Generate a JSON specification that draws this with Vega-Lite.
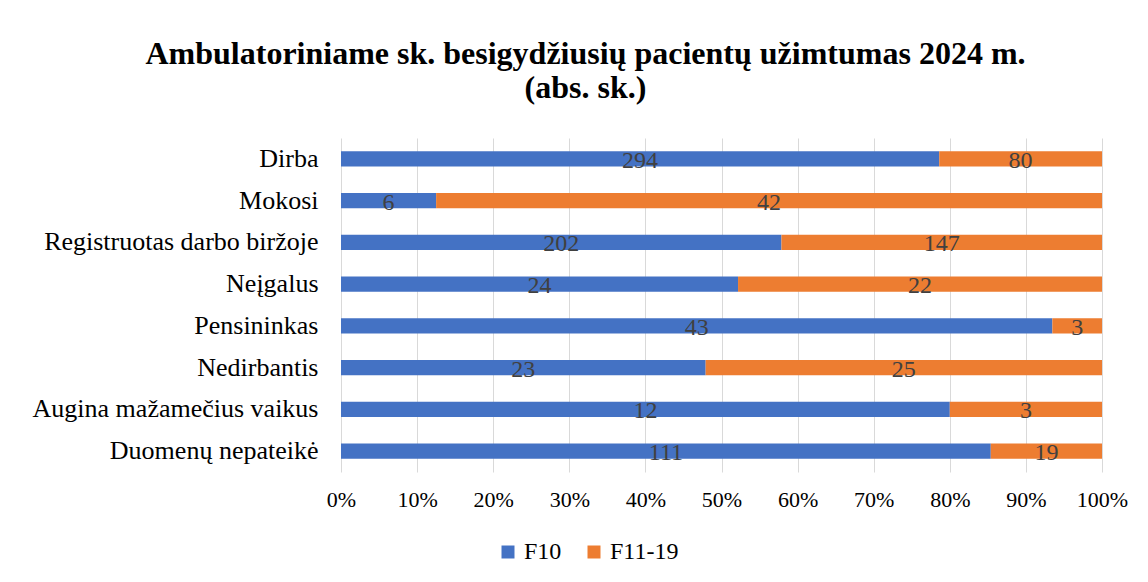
{
  "$schema": "https://vega.github.io/schema/vega-lite/v6.json",
  "width": 761,
  "height": 334,
  "autosize": "none",
  "padding": {"left": 341, "top": 138, "right": 46, "bottom": 110},
  "background": "white",
  "config": {
    "view": {"stroke": null},
    "font": "Liberation Serif",
    "axis": {"labelFont": "Liberation Serif"},
    "legend": {"labelFont": "Liberation Serif"}
  },
  "title": {
    "text": ["Ambulatoriniame sk. besigydžiusių pacientų užimtumas 2024 m.", "(abs. sk.)"],
    "font": "Liberation Serif",
    "fontSize": 32,
    "fontWeight": "bold",
    "color": "#000000",
    "anchor": "middle",
    "dx": -136,
    "offset": 33,
    "lineHeight": 34
  },
  "data": {
    "values": [
      {"cat": "Dirba", "series": "F10", "value": 294},
      {"cat": "Dirba", "series": "F11-19", "value": 80},
      {"cat": "Mokosi", "series": "F10", "value": 6},
      {"cat": "Mokosi", "series": "F11-19", "value": 42},
      {"cat": "Registruotas darbo biržoje", "series": "F10", "value": 202},
      {"cat": "Registruotas darbo biržoje", "series": "F11-19", "value": 147},
      {"cat": "Neįgalus", "series": "F10", "value": 24},
      {"cat": "Neįgalus", "series": "F11-19", "value": 22},
      {"cat": "Pensininkas", "series": "F10", "value": 43},
      {"cat": "Pensininkas", "series": "F11-19", "value": 3},
      {"cat": "Nedirbantis", "series": "F10", "value": 23},
      {"cat": "Nedirbantis", "series": "F11-19", "value": 25},
      {"cat": "Augina mažamečius vaikus", "series": "F10", "value": 12},
      {"cat": "Augina mažamečius vaikus", "series": "F11-19", "value": 3},
      {"cat": "Duomenų nepateikė", "series": "F10", "value": 111},
      {"cat": "Duomenų nepateikė", "series": "F11-19", "value": 19}
    ]
  },
  "transform": [
    {"stack": "value", "groupby": ["cat"], "offset": "normalize", "sort": [{"field": "series", "order": "ascending"}], "as": ["x0", "x1"]}
  ],
  "encoding": {
    "y": {
      "field": "cat",
      "type": "nominal",
      "sort": ["Dirba", "Mokosi", "Registruotas darbo biržoje", "Neįgalus", "Pensininkas", "Nedirbantis", "Augina mažamečius vaikus", "Duomenų nepateikė"],
      "scale": {"paddingInner": 0.64, "paddingOuter": 0.32},
      "axis": {
        "title": null,
        "domain": false,
        "ticks": false,
        "labelFont": "Liberation Serif",
        "labelFontSize": 26,
        "labelColor": "#000000",
        "labelPadding": 23,
        "labelLimit": 0
      }
    }
  },
  "layer": [
    {
      "mark": {"type": "bar"},
      "encoding": {
        "x": {
          "field": "x0",
          "type": "quantitative",
          "scale": {"domain": [0, 1], "nice": false},
          "axis": {
            "title": null,
            "format": "%",
            "values": [0, 0.1, 0.2, 0.3, 0.4, 0.5, 0.6, 0.7, 0.8, 0.9, 1],
            "grid": true,
            "gridColor": "#d9d9d9",
            "domain": false,
            "ticks": false,
            "labelFont": "Liberation Serif",
            "labelFontSize": 22,
            "labelColor": "#000000",
            "labelPadding": 17,
            "labelFlush": false,
            "labelOverlap": false
          }
        },
        "x2": {"field": "x1"},
        "color": {
          "field": "series",
          "type": "nominal",
          "scale": {"domain": ["F10", "F11-19"], "range": ["#4472C4", "#ED7D31"]},
          "legend": {
            "title": null,
            "orient": "none",
            "direction": "horizontal",
            "legendX": 155,
            "legendY": 402,
            "symbolType": "square",
            "symbolSize": 169,
            "symbolStrokeWidth": 0,
            "symbolOpacity": 1,
            "labelFont": "Liberation Serif",
            "labelFontSize": 24,
            "labelColor": "#000000",
            "labelOffset": 4,
            "columnPadding": 20
          }
        }
      }
    },
    {
      "transform": [{"calculate": "(datum.x0 + datum.x1) / 2", "as": "mid"}],
      "mark": {"type": "text", "font": "Liberation Serif", "fontSize": 24, "color": "#404040", "align": "center", "baseline": "middle", "dy": 2},
      "encoding": {
        "x": {
          "field": "mid",
          "type": "quantitative",
          "scale": {"domain": [0, 1], "nice": false},
          "axis": {
            "title": null,
            "format": "%",
            "values": [0, 0.1, 0.2, 0.3, 0.4, 0.5, 0.6, 0.7, 0.8, 0.9, 1],
            "grid": true,
            "gridColor": "#d9d9d9",
            "domain": false,
            "ticks": false,
            "labelFont": "Liberation Serif",
            "labelFontSize": 22,
            "labelColor": "#000000",
            "labelPadding": 17,
            "labelFlush": false,
            "labelOverlap": false
          }
        },
        "text": {"field": "value", "type": "quantitative"}
      }
    }
  ]
}
